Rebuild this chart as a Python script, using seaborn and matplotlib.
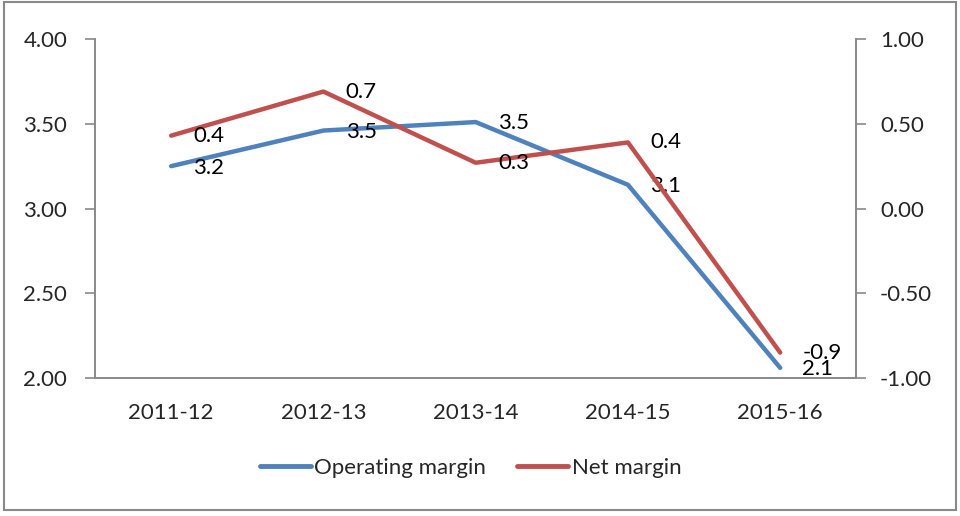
import matplotlib
matplotlib.use("Agg")
import matplotlib.pyplot as plt
import seaborn as sns
import pandas as pd
from matplotlib.lines import Line2D
from matplotlib.patches import Rectangle

years = ["2011-12", "2012-13", "2013-14", "2014-15", "2015-16"]
operating_margin = [3.25, 3.46, 3.51, 3.14, 2.06]
net_margin = [0.43, 0.69, 0.27, 0.39, -0.85]
op_labels = ["3.2", "3.5", "3.5", "3.1", "2.1"]
net_labels = ["0.4", "0.7", "0.3", "0.4", "-0.9"]

sns.set_theme(style="white")
plt.rcParams['font.family'] = ['Lato', 'DejaVu Sans']

blue = "#4F81BD"
red = "#C0504D"
gray = "#898989"
fs = 16

df = pd.DataFrame({"x": range(len(years)), "op": operating_margin, "net": net_margin})

fig = plt.figure(figsize=(9.6, 5.16), dpi=100)
ax = fig.add_axes([0.099, 0.2674, 0.793, 0.657])
ax2 = ax.twinx()

sns.lineplot(data=df, x="x", y="op", ax=ax, color=blue, linewidth=3.2, legend=False)
sns.lineplot(data=df, x="x", y="net", ax=ax2, color=red, linewidth=3.2, legend=False)

ax.set_xlim(-0.5, 4.5)
ax.set_ylim(2.0, 4.0)
ax2.set_ylim(-1.0, 1.0)
ax.set_yticks([2.0, 2.5, 3.0, 3.5, 4.0])
ax.set_yticklabels([f"{v:.2f}" for v in [2.0, 2.5, 3.0, 3.5, 4.0]])
ax2.set_yticks([-1.0, -0.5, 0.0, 0.5, 1.0])
ax2.set_yticklabels([f"{v:.2f}" for v in [-1.0, -0.5, 0.0, 0.5, 1.0]])

ax.set_xticks([i for i in range(len(years))])
ax.set_xticklabels(years)
ax.set_xticks([i - 0.5 for i in range(len(years) + 1)], minor=True)
ax.tick_params(axis="x", which="major", length=0, pad=18, labelsize=fs)
ax.tick_params(axis="x", which="minor", length=7, width=1.2, color=gray, direction="out")
ax.tick_params(axis="y", length=7, width=1.2, color=gray, direction="out", pad=13, labelsize=fs)
ax2.tick_params(axis="y", length=7, width=1.2, color=gray, direction="out", pad=10, labelsize=fs)
ax.set_xlabel("")
ax.set_ylabel("")
ax2.set_ylabel("")

for a in (ax, ax2):
    a.spines["top"].set_visible(False)
    for s in ("left", "right", "bottom"):
        a.spines[s].set_color(gray)
        a.spines[s].set_linewidth(1.2)

for i, (v, t) in enumerate(zip(operating_margin, op_labels)):
    ax.annotate(t, (i, v), xytext=(16, -1), textcoords="offset points", fontsize=fs,
                va="center", ha="left", color="black")
for i, (v, t) in enumerate(zip(net_margin, net_labels)):
    ax2.annotate(t, (i, v), xytext=(16, 0), textcoords="offset points", fontsize=fs,
                 va="center", ha="left", color="black")

handles = [Line2D([0], [0], color=blue, lw=3.5), Line2D([0], [0], color=red, lw=3.5)]
fig.legend(handles, ["Operating margin", "Net margin"], loc="center", bbox_to_anchor=(0.49, 0.093),
           ncol=2, frameon=False, fontsize=fs, handlelength=2.3, handletextpad=0.15, columnspacing=1.4)

fig.patches.append(Rectangle((0.004, 0.012), 0.992, 0.985, transform=fig.transFigure,
                             fill=False, edgecolor=gray, linewidth=1.5))

fig.savefig("out.png", dpi=100)
